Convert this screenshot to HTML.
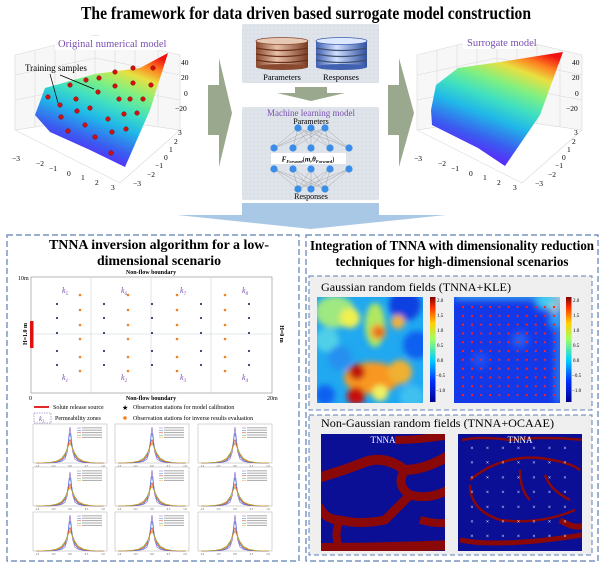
<!DOCTYPE html>
<html><head><meta charset="utf-8">
<style>
html,body{margin:0;padding:0;background:#fff;width:600px;height:567px;overflow:hidden}
svg{display:block}
text{font-family:"Liberation Serif",serif}
</style></head>
<body>
<svg id="root" width="600" height="567" viewBox="0 0 600 567">
<defs>
 <linearGradient id="surfL" x1="0.4" y1="1" x2="0.85" y2="0">
  <stop offset="0" stop-color="#6a10ff"/><stop offset="0.2" stop-color="#3a5cf0"/>
  <stop offset="0.38" stop-color="#20b8e8"/><stop offset="0.52" stop-color="#40e0c0"/><stop offset="0.66" stop-color="#80f080"/>
  <stop offset="0.8" stop-color="#e8e040"/><stop offset="0.9" stop-color="#ff8020"/><stop offset="1" stop-color="#f01010"/>
 </linearGradient>
 <filter id="blur4"><feGaussianBlur stdDeviation="4"/></filter>
 <filter id="blur3"><feGaussianBlur stdDeviation="3"/></filter>
 <pattern id="dots" width="4" height="4" patternUnits="userSpaceOnUse"><rect width="4" height="4" fill="#dfe3ea"/><circle cx="2" cy="2" r="0.5" fill="#c4c9d3"/></pattern>
 <linearGradient id="brown" x1="0" x2="1"><stop offset="0" stop-color="#8a4a30"/><stop offset="0.4" stop-color="#e8c0a8"/><stop offset="1" stop-color="#7a3a22"/></linearGradient>
 <linearGradient id="blueC" x1="0" x2="1"><stop offset="0" stop-color="#4060b0"/><stop offset="0.4" stop-color="#d0e0ff"/><stop offset="1" stop-color="#3050a0"/></linearGradient>
 <linearGradient id="cbar" x1="0" y1="1" x2="0" y2="0"><stop offset="0" stop-color="#00008f"/><stop offset="0.2" stop-color="#0030ff"/><stop offset="0.4" stop-color="#00d0ff"/><stop offset="0.6" stop-color="#a0ff60"/><stop offset="0.75" stop-color="#ffd000"/><stop offset="0.9" stop-color="#ff3000"/><stop offset="1" stop-color="#800000"/></linearGradient>
 <clipPath id="cm1"><rect x="317" y="297" width="106" height="106"/></clipPath>
 <clipPath id="cm2"><rect x="454" y="297" width="106" height="106"/></clipPath>
 <clipPath id="cn1"><rect x="321" y="434" width="124" height="117"/></clipPath>
 <clipPath id="cn2"><rect x="458" y="434" width="124" height="117"/></clipPath>
</defs>

<text x="306" y="19" text-anchor="middle" font-size="18" font-weight="bold" textLength="450" lengthAdjust="spacingAndGlyphs">The framework for data driven based surrogate model construction</text>

<g>
 <g stroke="#d8d8d8" stroke-width="0.6" fill="none">
  <polygon points="15,55 95,35 180,55 180,130 95,118 15,130" fill="#f7f7f7"/>
  <line x1="95" y1="35" x2="95" y2="118"/><line x1="35" y1="50" x2="35" y2="127"/><line x1="55" y1="45" x2="55" y2="124"/><line x1="75" y1="40" x2="75" y2="121"/>
  <line x1="115" y1="40" x2="115" y2="121"/><line x1="135" y1="45" x2="135" y2="124"/><line x1="158" y1="50" x2="158" y2="127"/>
  <line x1="15" y1="75" x2="95" y2="58"/><line x1="15" y1="100" x2="95" y2="84"/><line x1="95" y1="58" x2="180" y2="75"/><line x1="95" y1="84" x2="180" y2="100"/>
  <polyline points="15,130 120,183 180,130"/>
 </g>
 <polygon points="35,115 45,88 95,74 140,68 168,53 150,110 125,167 90,150 50,132" fill="url(#surfL)"/>
 <g fill="#d01010" stroke="#700" stroke-width="0.4">
  <circle cx="48" cy="97" r="2.3"/><circle cx="60" cy="105" r="2.3"/><circle cx="61" cy="117" r="2.3"/><circle cx="68" cy="131" r="2.3"/><circle cx="70" cy="85" r="2.3"/><circle cx="76" cy="99" r="2.3"/><circle cx="77" cy="111" r="2.3"/><circle cx="85" cy="125" r="2.3"/><circle cx="86" cy="80" r="2.3"/><circle cx="90" cy="108" r="2.3"/><circle cx="95" cy="137" r="2.3"/><circle cx="99" cy="78" r="2.3"/><circle cx="98" cy="92" r="2.3"/><circle cx="108" cy="119" r="2.3"/><circle cx="112" cy="132" r="2.3"/><circle cx="111" cy="153" r="2.3"/><circle cx="115" cy="72" r="2.3"/><circle cx="115" cy="86" r="2.3"/><circle cx="119" cy="99" r="2.3"/><circle cx="124" cy="114" r="2.3"/><circle cx="126" cy="129" r="2.3"/><circle cx="133" cy="68" r="2.3"/><circle cx="133" cy="83" r="2.3"/><circle cx="130" cy="99" r="2.3"/><circle cx="137" cy="113" r="2.3"/><circle cx="143" cy="99" r="2.3"/><circle cx="151" cy="85" r="2.3"/><circle cx="153" cy="68" r="2.3"/>
 </g>
 <rect x="55" y="36" width="110" height="14" fill="#fff"/>
 <text x="58" y="47" font-size="10.5" fill="#7a4fb0">Original numerical model</text>
 <text x="25" y="71" font-size="9">Training samples</text>
 <g stroke="#000" stroke-width="0.7"><line x1="50" y1="74" x2="58" y2="103"/><line x1="60" y1="75" x2="94" y2="89"/></g>
 <g font-size="7.5" font-family="Liberation Sans,sans-serif">
  <text x="181" y="65">40</text><text x="181" y="80">20</text><text x="184" y="96">0</text><text x="175" y="111">−20</text>
  <text x="12" y="161">−3</text><text x="36" y="166">−2</text><text x="49" y="171">−1</text><text x="67" y="176">0</text><text x="81" y="180">1</text><text x="95" y="185">2</text><text x="111" y="190">3</text>
  <text x="178" y="135">3</text><text x="174" y="144">2</text><text x="169" y="152">1</text><text x="164" y="160">0</text><text x="155" y="168">−1</text><text x="147" y="177">−2</text><text x="133" y="186">−3</text>
 </g>
</g>

<polygon points="208,85 219,85 219,58 232,113 219,167 219,135 208,135" fill="#9aa98e"/>

<g>
 <rect x="242" y="24" width="137" height="59" fill="url(#dots)" rx="2"/>
 <g>
  <rect x="256" y="41" width="52" height="26" fill="url(#brown)"/>
  <ellipse cx="282" cy="67" rx="26" ry="3" fill="#8a4a30"/>
  <g stroke="#6a3018" stroke-width="1.2" fill="none"><path d="M256,48 Q282,53 308,48"/><path d="M256,54 Q282,59 308,54"/><path d="M256,60 Q282,65 308,60"/></g>
  <ellipse cx="282" cy="41" rx="26" ry="3.5" fill="#e6c8b4" stroke="#8a4a30" stroke-width="0.8"/>
 </g>
 <g>
  <rect x="316" y="41" width="51" height="26" fill="url(#blueC)"/>
  <ellipse cx="341.5" cy="67" rx="25.5" ry="3" fill="#4060b0"/>
  <g stroke="#405070" stroke-width="1.2" fill="none"><path d="M316,48 Q341,53 367,48"/><path d="M316,54 Q341,59 367,54"/><path d="M316,60 Q341,65 367,60"/></g>
  <ellipse cx="341.5" cy="41" rx="25.5" ry="3.5" fill="#dce8ff" stroke="#4060b0" stroke-width="0.8"/>
 </g>
 <text x="282" y="80" font-size="8.5" text-anchor="middle">Parameters</text>
 <text x="341" y="80" font-size="8.5" text-anchor="middle">Responses</text>
</g>
<polygon points="295,87 327,87 327,93 345,93 311,101 277,93 295,93" fill="#9aa98e"/>

<g>
 <rect x="242" y="107" width="137" height="93" fill="url(#dots)" rx="2"/>
 <text x="311" y="116" font-size="9" fill="#7a4fb0" text-anchor="middle">Machine learning model</text>
 <text x="311" y="124" font-size="8" text-anchor="middle">Parameters</text>
 <g stroke="#9a9a9a" stroke-width="0.4" id="nnlines"></g>
 <g fill="#3a8ee8" id="nnnodes"></g>
 <rect x="271" y="153" width="75" height="11" fill="#fff"/>
 <text x="308" y="161.5" font-size="7" text-anchor="middle" font-style="italic" font-weight="bold">F<tspan font-size="4.5" dy="1.5">Forward</tspan><tspan dy="-1.5" font-weight="normal" font-style="normal">(</tspan>m,θ<tspan font-size="4.5" dy="1.5">Forward</tspan><tspan dy="-1.5" font-weight="normal" font-style="normal">)</tspan></text>
 <text x="311" y="199" font-size="8" text-anchor="middle">Responses</text>
</g>

<polygon points="388,85 399,85 399,58 414,113 399,167 399,135 388,135" fill="#9aa98e"/>

<g>
 <g stroke="#d8d8d8" stroke-width="0.6" fill="none">
  <polygon points="417,55 497,35 582,55 582,130 497,118 417,130" fill="#f7f7f7"/>
  <line x1="497" y1="35" x2="497" y2="118"/><line x1="437" y1="50" x2="437" y2="127"/><line x1="457" y1="45" x2="457" y2="124"/><line x1="477" y1="40" x2="477" y2="121"/>
  <line x1="517" y1="40" x2="517" y2="121"/><line x1="537" y1="45" x2="537" y2="124"/><line x1="560" y1="50" x2="560" y2="127"/>
  <line x1="417" y1="75" x2="497" y2="58"/><line x1="417" y1="100" x2="497" y2="84"/><line x1="497" y1="58" x2="582" y2="75"/><line x1="497" y1="84" x2="582" y2="100"/>
  <polyline points="417,130 522,183 582,130"/>
 </g>
 <polygon points="431,110 436,85 458,68 500,62 563,52 540,115 505,166 478,148 432,125" fill="url(#surfL)"/>
 <rect x="463" y="35" width="68" height="14" fill="#fff"/>
 <text x="467" y="46" font-size="10.5" fill="#7a4fb0">Surrogate model</text>
 <g font-size="7.5" font-family="Liberation Sans,sans-serif">
  <text x="572" y="65">40</text><text x="572" y="80">20</text><text x="575" y="96">0</text><text x="566" y="111">−20</text>
  <text x="414" y="161">−3</text><text x="438" y="166">−2</text><text x="451" y="171">−1</text><text x="469" y="176">0</text><text x="483" y="180">1</text><text x="497" y="185">2</text><text x="513" y="190">3</text>
  <text x="574" y="135">3</text><text x="572" y="144">2</text><text x="567" y="152">1</text><text x="562" y="160">0</text><text x="555" y="168">−1</text><text x="548" y="177">−2</text><text x="535" y="186">−3</text>
 </g>
</g>

<polygon points="242,203 379,203 379,215 446,215 311,229 177,215 242,215" fill="#a9c8e6"/>

<g>
 <rect x="7" y="235" width="292" height="326" fill="none" stroke="#5b7fb5" stroke-width="1.2" stroke-dasharray="6,3"/>
 <text x="159" y="249" font-size="13.5" font-weight="bold" text-anchor="middle" textLength="220" lengthAdjust="spacingAndGlyphs">TNNA inversion algorithm for a low-</text>
 <text x="159" y="265" font-size="13.5" font-weight="bold" text-anchor="middle" textLength="124" lengthAdjust="spacingAndGlyphs">dimensional scenario</text>

 <g>
  <rect x="31" y="277" width="241" height="116" fill="#fff" stroke="#888" stroke-width="0.6"/>
  <g stroke="#c8d4d8" stroke-width="0.6"><line x1="91" y1="277" x2="91" y2="393"/><line x1="151" y1="277" x2="151" y2="393"/><line x1="211" y1="277" x2="211" y2="393"/><line x1="31" y1="334" x2="272" y2="334"/></g>
  <rect x="30" y="321" width="3.5" height="27" fill="#e01010"/>
  <text x="151" y="274" font-size="6" font-weight="bold" text-anchor="middle">Non-flow boundary</text>
  <text x="151" y="400" font-size="6" font-weight="bold" text-anchor="middle">Non-flow boundary</text>
  <text x="18" y="280" font-size="6">10m</text>
  <text x="29" y="400" font-size="6">0</text>
  <text x="267" y="400" font-size="6">20m</text>
  <text x="27" y="334" font-size="6" font-weight="bold" text-anchor="middle" transform="rotate(-90 27 334)">H=1.0 m</text>
  <text x="280" y="334" font-size="6" font-weight="bold" text-anchor="middle" transform="rotate(90 280 334)">H=0 m</text>
  <g id="obsdots"></g>
  <g font-size="8" fill="#7a4fb0" font-style="italic">
   <text x="62" y="293">k<tspan font-size="5" dy="2">5</tspan></text><text x="121" y="293">k<tspan font-size="5" dy="2">6</tspan></text><text x="180" y="293">k<tspan font-size="5" dy="2">7</tspan></text><text x="242" y="293">k<tspan font-size="5" dy="2">8</tspan></text>
   <text x="62" y="380">k<tspan font-size="5" dy="2">1</tspan></text><text x="121" y="380">k<tspan font-size="5" dy="2">2</tspan></text><text x="180" y="380">k<tspan font-size="5" dy="2">3</tspan></text><text x="242" y="380">k<tspan font-size="5" dy="2">4</tspan></text>
  </g>
 </g>

 <g font-size="6">
  <line x1="34" y1="407" x2="49" y2="407" stroke="#e01010" stroke-width="1.8"/>
  <text x="53" y="409">Solute release source</text>
  <text x="122" y="410" font-size="7">★</text>
  <text x="133" y="409">Observation stations for model calibration</text>
  <rect x="34" y="413" width="17" height="10" fill="none" stroke="#7a4fb0" stroke-width="0.5" stroke-dasharray="1.5,1"/>
  <text x="39" y="421" font-size="7" fill="#7a4fb0" font-style="italic">k<tspan font-size="4.5" dy="1.5">1</tspan></text>
  <text x="55" y="420">Permeability zones</text>
  <circle cx="125" cy="418" r="1.8" fill="#f08020"/>
  <text x="133" y="420">Observation stations for inverse results evaluation</text>
 </g>
 <g id="densities"></g>
</g>

<g>
 <rect x="306" y="235" width="292" height="326" fill="none" stroke="#5b7fb5" stroke-width="1.2" stroke-dasharray="6,3"/>
 <text x="452" y="250" font-size="13.5" font-weight="bold" text-anchor="middle" textLength="284" lengthAdjust="spacingAndGlyphs">Integration of TNNA with dimensionality reduction</text>
 <text x="452" y="266" font-size="13.5" font-weight="bold" text-anchor="middle" textLength="233" lengthAdjust="spacingAndGlyphs">techniques for high-dimensional scenarios</text>

 <g>
  <rect x="309" y="276" width="283" height="134" fill="#efefef" stroke="#5b7fb5" stroke-width="1" stroke-dasharray="5,3"/>
  <text x="321" y="291" font-size="12" textLength="190" lengthAdjust="spacingAndGlyphs">Gaussian random fields (TNNA+KLE)</text>
  <g clip-path="url(#cm1)">
   <rect x="317" y="297" width="106" height="106" fill="#20a8f0"/>
   <g filter="url(#blur3)">
    <ellipse cx="335" cy="312" rx="20" ry="16" fill="#a0e880"/><circle cx="350" cy="318" r="10" fill="#f0f050"/>
    <circle cx="327" cy="340" r="12" fill="#50d0e8"/>
    <ellipse cx="375" cy="325" rx="10" ry="22" fill="#b0e860"/><circle cx="378" cy="332" r="8" fill="#f0a030"/><circle cx="379" cy="332" r="4" fill="#e05010"/>
    <circle cx="405" cy="305" r="16" fill="#0c40e0"/><circle cx="398" cy="322" r="7" fill="#f0b040"/>
    <circle cx="417" cy="345" r="14" fill="#1060f0"/><circle cx="340" cy="358" r="12" fill="#2890f0"/>
    <ellipse cx="372" cy="378" rx="28" ry="16" fill="#f89820"/><circle cx="400" cy="372" r="12" fill="#f0b030"/>
    <circle cx="357" cy="372" r="8" fill="#c01810"/>
    <circle cx="356" cy="396" r="9" fill="#c81010"/><circle cx="380" cy="393" r="8" fill="#f0f060"/>
    <circle cx="412" cy="397" r="12" fill="#40c0f0"/><circle cx="325" cy="395" r="10" fill="#1060f0"/>
   </g>
  </g>
  <g clip-path="url(#cm2)">
   <rect x="454" y="297" width="106" height="106" fill="#1238e8"/>
   <g filter="url(#blur4)">
    <circle cx="556" cy="300" r="12" fill="#f0f060"/><circle cx="545" cy="300" r="10" fill="#40d0f0"/><circle cx="558" cy="320" r="9" fill="#30b0f0"/>
    <rect x="454" y="293" width="106" height="6" fill="#40c0f0"/><rect x="556" y="297" width="6" height="106" fill="#3090f0"/>
    <circle cx="520" cy="340" r="8" fill="#2a60f0"/><circle cx="480" cy="360" r="8" fill="#2250f0"/>
   </g>
   <g id="redgrid"></g>
  </g>
  <rect x="430" y="297" width="5.5" height="105" fill="url(#cbar)"/>
  <rect x="566" y="297" width="5.5" height="105" fill="url(#cbar)"/>
  <g font-size="5" font-family="Liberation Sans,sans-serif">
   <text x="437" y="302">2.0</text><text x="437" y="317">1.5</text><text x="437" y="332">1.0</text><text x="437" y="347">0.5</text><text x="437" y="362">0.0</text><text x="436" y="377">−0.5</text><text x="436" y="392">−1.0</text>
   <text x="573" y="302">2.0</text><text x="573" y="317">1.5</text><text x="573" y="332">1.0</text><text x="573" y="347">0.5</text><text x="573" y="362">0.0</text><text x="572" y="377">−0.5</text><text x="572" y="392">−1.0</text>
  </g>
 </g>

 <g>
  <rect x="309" y="415" width="283" height="140" fill="#efefef" stroke="#5b7fb5" stroke-width="1" stroke-dasharray="5,3"/>
  <text x="321" y="427" font-size="12" textLength="233" lengthAdjust="spacingAndGlyphs">Non-Gaussian random fields (TNNA+OCAAE)</text>
  <g clip-path="url(#cn1)">
   <rect x="321" y="434" width="124" height="117" fill="#0a0f96"/>
   <g fill="none" stroke="#8a0808" stroke-linejoin="round">
    <path d="M318,478 Q345,470 365,462 Q385,455 405,470 Q425,470 450,455" stroke-width="10"/>
    <path d="M405,470 Q395,485 410,495 Q430,500 448,490" stroke-width="9"/>
    <path d="M410,495 Q395,510 385,520 Q360,525 340,520 Q325,520 318,505" stroke-width="9"/>
    <path d="M395,440 Q420,440 450,435" stroke-width="8"/>
    <path d="M318,548 Q380,548 450,545" stroke-width="10"/>
    <path d="M340,520 Q333,535 340,548" stroke-width="8"/>
    <path d="M420,520 Q440,525 450,522" stroke-width="8"/>
   </g>
   <text x="383" y="443" font-size="9" fill="#fff" text-anchor="middle">TNNA</text>
  </g>
  <g clip-path="url(#cn2)">
   <rect x="458" y="434" width="124" height="117" fill="#0a0f96"/>
   <g fill="none" stroke="#8a0808" stroke-width="2.5">
    <path d="M462,440 Q480,436 510,440 Q540,436 585,440"/>
    <path d="M470,480 Q500,455 540,458 Q570,462 580,470"/>
    <path d="M470,485 Q470,510 500,520 Q540,525 575,510"/>
    <path d="M520,470 Q520,490 530,500"/>
    <path d="M545,475 Q550,490 570,500"/>
    <path d="M460,540 Q500,548 582,535" stroke-width="5"/>
    <path d="M560,520 Q575,530 585,525" stroke-width="6"/>
   </g>
   <g id="whitex"></g>
   <text x="520" y="443" font-size="9" fill="#fff" text-anchor="middle">TNNA</text>
  </g>
 </g>
</g>
</svg>

<script>
var errGrid=[-1.0,-0.6,-0.4,-0.25,-0.15,-0.08,-0.03,0,0.03,0.08,0.15,0.25,0.4,0.6,1.0];
var tnna=[0,0.02,0.08,0.2,0.5,1.4,3.6,4.6,3.6,1.4,0.5,0.2,0.08,0.02,0];
var es  =[0,0.03,0.12,0.3,0.8,1.9,3.3,3.8,3.2,1.8,0.8,0.3,0.1,0.03,0];
var ils =[0,0.05,0.18,0.45,1.0,1.9,2.7,3.0,2.6,1.8,1.0,0.45,0.15,0.04,0];
var pso =[0,0.08,0.25,0.6,1.2,1.9,2.3,2.5,2.3,1.9,1.2,0.6,0.25,0.07,0];
var ga  =[0,0.07,0.22,0.55,1.1,1.8,2.4,2.6,2.3,1.7,1.1,0.55,0.2,0.06,0];
var panelPeak=[1.0,1.0,1.0,0.95,1.0,0.95,1.0,1.0,1.0];
var xTickLabels=['-1.0','-0.5','0.0','0.5','1.0'];
var seriesColors=['#8a60c0','#3a7ee0','#d03020','#40b040','#f0a030'];

var NS='http://www.w3.org/2000/svg';
function mk(tag,attrs,parent){var e=document.createElementNS(NS,tag);for(var k in attrs)e.setAttribute(k,attrs[k]);parent.appendChild(e);return e;}

var nnX=[[298,311,325],[274,293,311,330,349],[274,293,311,330,349],[298,311,325]];
var nnY=[128,148,169,189];
var L=document.getElementById('nnlines'),N=document.getElementById('nnnodes');
for(var l=0;l<3;l++){if(l===1)continue;for(var i=0;i<nnX[l].length;i++)for(var j=0;j<nnX[l+1].length;j++){mk('line',{x1:nnX[l][i],y1:nnY[l],x2:nnX[l+1][j],y2:nnY[l+1]},L);}}
for(var l=0;l<4;l++)for(var i=0;i<nnX[l].length;i++){var c=mk('circle',{cx:nnX[l][i],cy:nnY[l],r:3.6},N);

}

var calibX=[57,104,152,201,249], calibY=[304,318,333,351,365];
var evalX=[80,128,177,225], evalY=[295,310,325,339,357,371];
var O=document.getElementById('obsdots');
calibX.forEach(function(x){calibY.forEach(function(y){var d=mk('rect',{x:x-0.9,y:y-0.9,width:1.8,height:1.8,fill:'#202060'},O);

});});
evalX.forEach(function(x){evalY.forEach(function(y){var d=mk('circle',{cx:x,cy:y,r:1.3,fill:'#f08020'},O);

});});

var RG=document.getElementById('redgrid');
for(var i=0;i<11;i++)for(var j=0;j<11;j++){mk('circle',{cx:463+i*9.1,cy:307+j*8.8,r:1.1,fill:'#ff2020'},RG);}
var WX=document.getElementById('whitex');
for(var i=0;i<7;i++)for(var j=0;j<7;j++){var t=mk('text',{x:472+i*15.5,y:450+j*14.7,'font-size':'6','fill':'#fff','text-anchor':'middle','font-family':'Liberation Sans,sans-serif'},WX);t.textContent='×';}

var panelX=[33,115,198], panelY=[424,467,512], PW=74, PH=39;
var D=document.getElementById('densities');
var allSeries=[tnna,es,ils,pso,ga];
for(var r=0;r<3;r++)for(var c=0;c<3;c++){
 (function(r,c){
 var idx=r*3+c, x0=panelX[c], y0=panelY[r];
 var g=mk('g',{},D);
 
 
 mk('rect',{x:x0,y:y0,width:PW,height:PH,fill:'#fff',stroke:'#999','stroke-width':0.4},g);
 var sx=function(v){return x0+(v+1.1)/2.2*PW;};
 var sy=function(v){return y0+PH-v/5.0*PH;};
 allSeries.forEach(function(s,k){
  var pts=errGrid.map(function(e,i){return sx(e).toFixed(1)+','+sy(s[i]*panelPeak[idx]).toFixed(1);}).join(' ');
  mk('polyline',{points:pts,fill:'none',stroke:seriesColors[k],'stroke-width':0.6},g);
 });
 for(var k=0;k<5;k++){mk('line',{x1:x0+PW-30,y1:y0+4+k*2.4,x2:x0+PW-26,y2:y0+4+k*2.4,stroke:seriesColors[k],'stroke-width':0.5},g);
  mk('rect',{x:x0+PW-25,y:y0+3.3+k*2.4,width:20,height:1,fill:'#aaa'},g);}
 xTickLabels.forEach(function(lb,i){var t=mk('text',{x:x0+4+i*(PW-8)/4,y:y0+PH+4,'font-size':'2.8','text-anchor':'middle',fill:'#555','font-family':'Liberation Sans,sans-serif'},g);t.textContent=lb;});
 })(r,c);
}
</script>
</body></html>
